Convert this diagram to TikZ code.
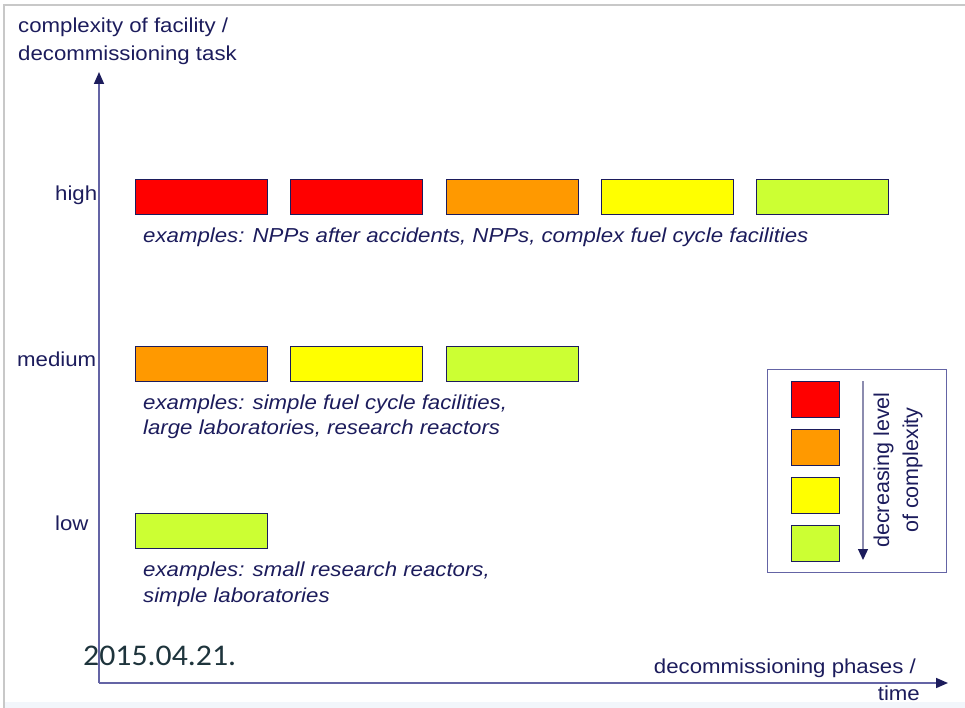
\documentclass[tikz,border=0pt]{standalone}
\usepackage{fontspec}
\setmainfont{Liberation Sans}
\newfontfamily\datefont{Carlito}
\usetikzlibrary{arrows.meta}

\definecolor{ink}{RGB}{28,28,92}
\definecolor{axisline}{RGB}{100,100,165}
\definecolor{legendarrow}{RGB}{140,140,175}
\definecolor{barred}{RGB}{255,0,0}
\definecolor{barorange}{RGB}{255,153,0}
\definecolor{baryellow}{RGB}{255,255,0}
\definecolor{barlime}{RGB}{204,255,51}
\definecolor{framegrey}{RGB}{200,200,200}
\definecolor{bottomband}{RGB}{242,246,251}
\definecolor{datecol}{RGB}{30,52,60}

% horizontally widened lettering
\newcommand{\widetext}[1]{\scalebox{1.1}[1]{#1}}

\tikzset{
  bar/.style={draw=ink, line width=1.1pt, minimum width=132pt, minimum height=35pt,
    inner sep=0pt, anchor=north west},
  swatch/.style={draw=ink, line width=1.1pt, minimum width=48pt, minimum height=36pt,
    inner sep=0pt, anchor=north west},
  lbl/.style={text=ink, font=\fontsize{20.2}{24}\selectfont, inner sep=0pt, anchor=base west},
  example/.style={lbl, font=\fontsize{20.2}{24}\selectfont\itshape},
  axisarrow/.style={draw=axisline, line width=1.6pt,
    -{Triangle[length=12pt,width=10pt,color=ink]}},
}

\begin{document}
\begin{tikzpicture}[x=1pt, y=-1pt]
  \useasboundingbox (0,0) rectangle (965,708);

  % page frame and lower band
  \fill[bottomband] (5,702) rectangle (965,708);
  \draw[framegrey, line width=2pt] (4,708) -- (4,5) -- (965,5);

  % axes
  \coordinate (origin) at (99,683);
  \coordinate (ytip) at (99,72);
  \coordinate (xtip) at (948,683);
  \draw[axisarrow] (origin) -- (ytip);
  \draw[axisarrow] (origin) -- (xtip);

  % axis titles
  \node[lbl] (ytitleA) at (18,33) {\widetext{complexity of facility /}};
  \node[lbl] (ytitleB) at (18,61) {\widetext{decommissioning task}};
  \node[lbl, anchor=base east] (xtitleA) at (916,673) {\widetext{decommissioning phases /}};
  \node[lbl, anchor=base east] (xtitleB) at (920,700) {\widetext{time}};

  % level labels
  \node[lbl] (high) at (55,201) {\widetext{high}};
  \node[lbl] (medium) at (17,366) {\widetext{medium}};
  \node[lbl] (low) at (55,530) {\widetext{low}};

  % high complexity row
  \node[bar, fill=barred]    (h1) at (135,179) {};
  \node[bar, fill=barred]    (h2) at (290,179) {};
  \node[bar, fill=barorange] (h3) at (446,179) {};
  \node[bar, fill=baryellow] (h4) at (601,179) {};
  \node[bar, fill=barlime]   (h5) at (756,179) {};
  \node[example] (hex) at (143,243)
    {\widetext{examples: NPPs after accidents, NPPs, complex fuel cycle facilities}};

  % medium complexity row
  \node[bar, fill=barorange] (m1) at (135,346) {};
  \node[bar, fill=baryellow] (m2) at (290,346) {};
  \node[bar, fill=barlime]   (m3) at (446,346) {};
  \node[example] (mexA) at (143,409) {\widetext{examples: simple fuel cycle facilities,}};
  \node[example] (mexB) at (143,434) {\widetext{large laboratories, research reactors}};

  % low complexity row
  \node[bar, fill=barlime] (l1) at (135,513) {};
  \node[example] (lexA) at (143,576) {\widetext{examples: small research reactors,}};
  \node[example] (lexB) at (143,602) {\widetext{simple laboratories}};

  % legend
  \node[draw=axisline, line width=1.4pt, minimum width=179pt, minimum height=203pt,
        inner sep=0pt, anchor=north west] (legend) at (767,369) {};
  \node[swatch, fill=barred]    (s1) at (791,381) {};
  \node[swatch, fill=barorange] (s2) at (791,429) {};
  \node[swatch, fill=baryellow] (s3) at (791,477) {};
  \node[swatch, fill=barlime]   (s4) at (791,525) {};
  \coordinate (lgtop) at (863,381);
  \coordinate (lgbot) at (863,560);
  \draw[draw=legendarrow, line width=1.3pt, -{Triangle[length=11pt,width=10pt,color=ink]}]
    (lgtop) -- (lgbot);
  \node[text=ink, font=\fontsize{21.5}{29}\selectfont, align=center, rotate=90, inner sep=0pt]
    (lgtext) at (898,470) {decreasing level\\of complexity};

  % date
  \node[text=datecol, font=\datefont\fontsize{30}{33}\selectfont, inner sep=0pt,
        anchor=base west] (date) at (83,665) {\scalebox{1.06}[1]{2015.04.21.}};
\end{tikzpicture}
\end{document}
